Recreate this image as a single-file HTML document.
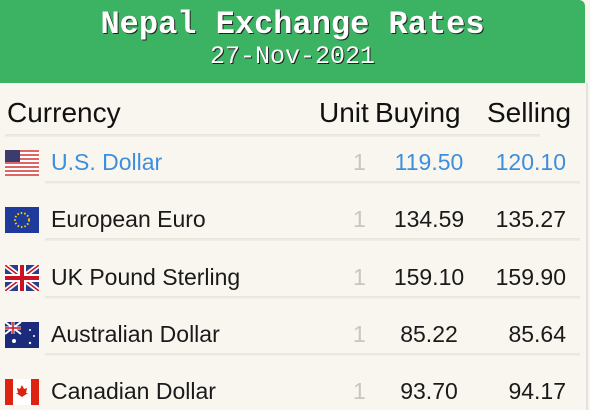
<!DOCTYPE html>
<html><head><meta charset="utf-8"><style>
body{margin:0;width:590px;height:410px;overflow:hidden;background:#f9f6ef;font-family:"Liberation Sans",sans-serif;position:relative}
.hdr{position:absolute;left:0;top:0;width:585px;height:83px;background:#3bb362;border-radius:0 6px 0 0}
.title{position:absolute;left:0;width:585px;text-align:center;color:#fff;font-family:"Liberation Mono",monospace;font-weight:bold;text-shadow:1px 1px 0 #222}
.rb{position:absolute;left:586px;top:83px;width:2px;height:327px;background:#e4e2dd}
.t{position:absolute;white-space:nowrap}
.ch{font-size:28px;color:#111;top:97px}
.row{font-size:23px;color:#1a1a1a}
.sep{position:absolute;left:45px;width:535px;height:3px;background:linear-gradient(#e6e3dc,#f3f0e9)}
.flag{position:absolute;left:5px;width:34px;height:26px}
</style></head><body>
<div class="hdr"></div>
<div class="title" style="top:6px;font-size:32px">Nepal Exchange Rates</div>
<div class="title" style="top:42px;font-size:25px;font-weight:normal">27-Nov-2021</div>
<div class="rb"></div>
<div class="t ch" style="left:7px">Currency</div>
<div class="t ch" style="left:319px">Unit</div>
<div class="t ch" style="left:375px">Buying</div>
<div class="t ch" style="left:487px">Selling</div>
<div class="sep" style="left:5px;top:134px"></div>
<div id="rows"></div>
<script>
const names=["U.S. Dollar","European Euro","UK Pound Sterling","Australian Dollar","Canadian Dollar"];
const units=[1,1,1,1,1];
const buying=["119.50","134.59","159.10","85.22","93.70"];
const selling=["120.10","135.27","159.90","85.64","94.17"];
const flags=[
'<svg viewBox="0 0 34 26" width="34" height="26"><rect width="34" height="26" fill="#fff"/><g fill="#d66">'+[0,4,8,12,16,20,24].map(y=>'<rect y="'+y+'" width="34" height="2"/>').join('')+'</g><rect width="15" height="12" fill="#3c3b6e"/></svg>',
'<svg viewBox="0 0 34 26" width="34" height="26"><rect width="34" height="26" fill="#1e3a9a"/><circle cx="17" cy="13" r="7" fill="none" stroke="#fc0" stroke-width="2" stroke-dasharray="1.5 2"/></svg>',
'<svg viewBox="0 0 34 26" width="34" height="26"><rect width="34" height="26" fill="#2a3f8a"/><path d="M0 0L34 26M34 0L0 26" stroke="#fff" stroke-width="5"/><path d="M0 0L34 26M34 0L0 26" stroke="#c12" stroke-width="1.5"/><path d="M17 0V26M0 13H34" stroke="#fff" stroke-width="8"/><path d="M17 0V26M0 13H34" stroke="#c12" stroke-width="4"/></svg>',
'<svg viewBox="0 0 34 26" width="34" height="26"><rect width="34" height="26" fill="#1b2a7a"/><path d="M0 0L16 12M16 0L0 12" stroke="#fff" stroke-width="2"/><path d="M8 0V12M0 6H16" stroke="#fff" stroke-width="3"/><path d="M8 0V12M0 6H16" stroke="#c12" stroke-width="1.5"/><circle cx="9" cy="19" r="2" fill="#fff"/><circle cx="25" cy="8" r="1" fill="#fff"/><circle cx="29" cy="14" r="1" fill="#fff"/><circle cx="25" cy="21" r="1.2" fill="#fff"/></svg>',
'<svg viewBox="0 0 34 26" width="34" height="26"><rect width="34" height="26" fill="#fff"/><rect width="8" height="26" fill="#d21"/><rect x="26" width="8" height="26" fill="#d21"/><path d="M17 6l2 4 3-1-1 5 2 0-6 4-6-4 2 0-1-5 3 1z" fill="#d21"/></svg>'];
const root=document.getElementById('rows');
names.forEach((n,i)=>{
  const y=148+i*57.3;
  const f=document.createElement('div');f.className='flag';f.style.top=(y+2)+'px';f.innerHTML=flags[i];
  
  
  root.appendChild(f);
  const col=i===0?'#3d8fdc':'#1a1a1a';
  const mk=(txt,style,name,c)=>{const d=document.createElement('div');d.className='t row';d.textContent=txt;d.style.cssText=style+';top:'+(y+1)+'px;color:'+c;
    
    
    root.appendChild(d);};
  mk(n,'left:51px','currency-name',col);
  mk(String(units[i]),'left:353px','unit-value','#c8c6c2');
  mk(buying[i],'left:379px;width:100px;text-align:center','buying-rate',col);
  mk(selling[i],'right:24px','selling-rate',col);
  if(i<4){const s=document.createElement('div');s.className='sep';s.style.top=(y+33)+'px';
    
    
    root.appendChild(s);}
});
</script>
</body></html>
